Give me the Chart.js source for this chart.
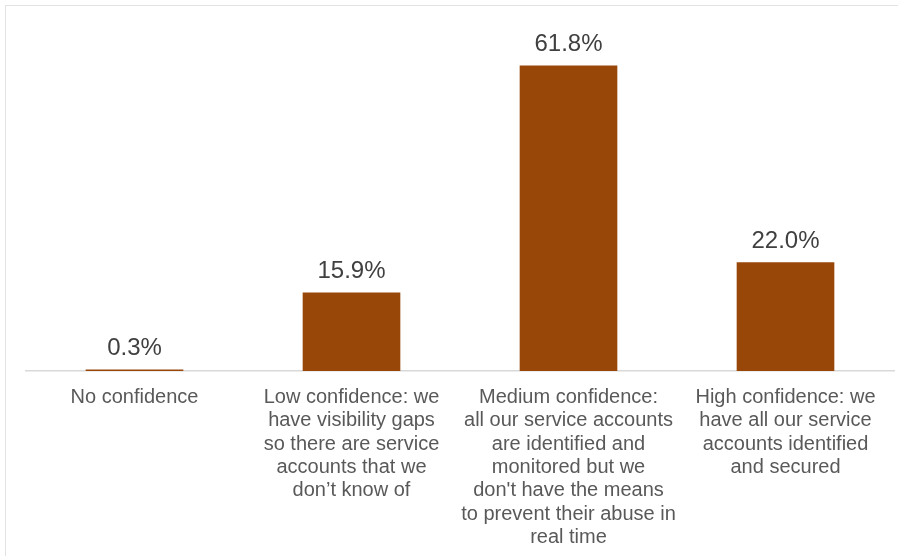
<!DOCTYPE html>
<html>
<head>
<meta charset="utf-8">
<script src="https://cdn.jsdelivr.net/npm/chart.js@4"></script>
<style>
  body { margin: 0; background: #fff; }
  #wrap { position: relative; width: 903px; height: 556px; }
  #frame {
    position: absolute; left: 5px; top: 5px; width: 892px; height: 560px;
    border-top: 1.5px solid #e3e3e3; border-left: 1.5px solid #e3e3e3;
    pointer-events: none;
  }
</style>
</head>
<body>
<div id="wrap">
  <canvas id="bar-chart" width="903" height="556"></canvas>
  <div id="frame"></div>
</div>
<script>
const categories = [
  ["No confidence"],
  ["Low confidence: we", "have visibility gaps", "so there are service", "accounts that we", "don\u2019t know of"],
  ["Medium confidence:", "all our service accounts", "are identified and", "monitored but we", "don't have the means", "to prevent their abuse in", "real time"],
  ["High confidence: we", "have all our service", "accounts identified", "and secured"]
];
const shares = [0.3, 15.9, 61.8, 22.0];
const barColor = "#984709";

const valueLabels = {
  id: "valueLabels",
  afterDatasetsDraw(chart) {
    const ctx = chart.ctx;
    const meta = chart.getDatasetMeta(0);
    ctx.save();
    ctx.font = "24px 'Liberation Sans', Arial, sans-serif";
    ctx.fillStyle = "#404040";
    ctx.textAlign = "center";
    ctx.textBaseline = "middle";
    meta.data.forEach(function (bar, i) {
      ctx.fillText(shares[i].toFixed(1) + "%", bar.x, bar.y - 21);
    });
    ctx.restore();
  }
};

new Chart("bar-chart", {
  type: "bar",
  data: {
    labels: categories,
    datasets: [
      {
        data: shares,
        backgroundColor: barColor,
        barPercentage: 0.45,
        categoryPercentage: 1,
      },
    ],
  },
  options: {
    responsive: false,
    animation: false,
    layout: { padding: { left: 26, right: 9, top: 25, bottom: 0 } },
    plugins: {
      legend: { display: false },
      tooltip: { enabled: false },
    },
    scales: {
      x: {
        afterFit(scale) { scale.height = 185; },
        grid: { display: false },
        border: { display: true, color: "#d9d9d9", width: 1.5 },
        ticks: {
          color: "#595959",
          padding: 7,
          maxRotation: 0,
          autoSkip: false,
          font: { family: "'Liberation Sans', Arial, sans-serif", size: 20, lineHeight: 1.165 },
        },
      },
      y: {
        display: false,
        min: 0,
        max: 70,
      },
    },
  },
  plugins: [valueLabels],
});
</script>
</body>
</html>
